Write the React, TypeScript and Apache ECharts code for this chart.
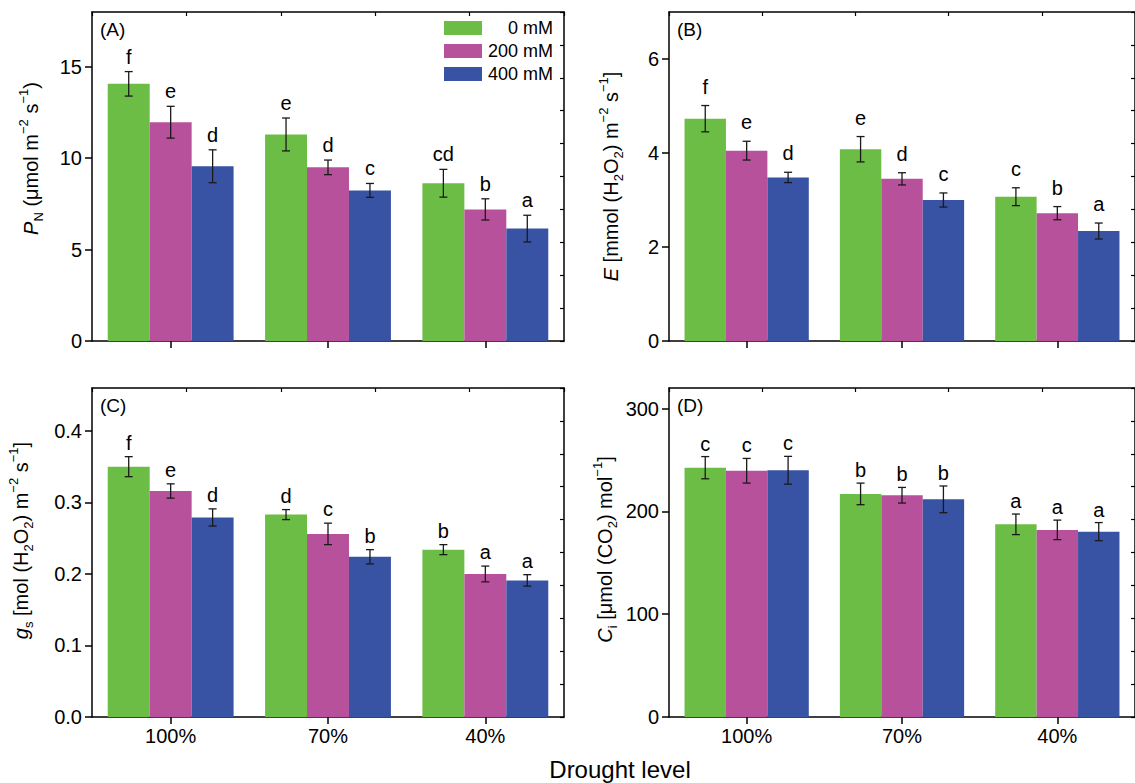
import React, { useEffect, useRef } from "react";
import * as echarts from "echarts";

// ---------------- data ----------------
const categories = ["100%", "70%", "40%"];
const treatments = ["0 mM", "200 mM", "400 mM"];

// rows = treatments (0, 200, 400 mM), columns = categories (100%, 70%, 40%)
const pnMean = [
  [14.07, 11.3, 8.63],
  [11.97, 9.5, 7.2],
  [9.56, 8.24, 6.15],
];
const pnErr = [
  [0.67, 0.9, 0.76],
  [0.87, 0.4, 0.58],
  [0.9, 0.38, 0.73],
];
const pnLetters = [
  ["f", "e", "cd"],
  ["e", "d", "b"],
  ["d", "c", "a"],
];

const eMean = [
  [4.73, 4.08, 3.07],
  [4.05, 3.45, 2.72],
  [3.48, 3.0, 2.34],
];
const eErr = [
  [0.28, 0.27, 0.19],
  [0.2, 0.13, 0.14],
  [0.11, 0.15, 0.17],
];
const eLetters = [
  ["f", "e", "c"],
  ["e", "d", "b"],
  ["d", "c", "a"],
];

const gsMean = [
  [0.35, 0.283, 0.234],
  [0.316, 0.256, 0.2],
  [0.279, 0.224, 0.191],
];
const gsErr = [
  [0.014, 0.007, 0.007],
  [0.01, 0.015, 0.011],
  [0.012, 0.01, 0.008],
];
const gsLetters = [
  ["f", "d", "b"],
  ["e", "c", "a"],
  ["d", "b", "a"],
];

const ciMean = [
  [242.5, 217, 187.4],
  [239.5, 215.7, 182],
  [240, 211.7, 180.3],
];
const ciErr = [
  [10.8, 10.5, 10],
  [12, 7.6, 9.5],
  [13.5, 13, 8.8],
];
const ciLetters = [
  ["c", "b", "a"],
  ["c", "b", "a"],
  ["c", "b", "a"],
];

const pnTicks = [0, 5, 10, 15];
const eTicks = [0, 2, 4, 6];
const gsTicks = [0, 0.1, 0.2, 0.3, 0.4];
const ciTicks = [0, 100, 200, 300];

// ---------------- styles ----------------
const FONT = "'Liberation Sans', Arial, Helvetica, sans-serif";
const colors = ["#6CBD45", "#B8519B", "#3953A4"];
const AXIS_COLOR = "#000";
const AXIS_W = 1.5;

const richName = {
  i: { fontStyle: "italic", fontSize: 20, lineHeight: 28, fontFamily: FONT, color: "#000" },
  n: { fontSize: 20, lineHeight: 28, fontFamily: FONT, color: "#000" },
  sub: { fontSize: 13, lineHeight: 13, verticalAlign: "bottom", fontFamily: FONT, color: "#000" },
  sup: { fontSize: 13, lineHeight: 13, verticalAlign: "top", fontFamily: FONT, color: "#000" },
};

const panels = [
  {
    label: "(A)", left: 92, top: 12, width: 472, height: 329, max: 18,
    ticks: pnTicks, means: pnMean, errs: pnErr, letters: pnLetters,
    name: "{i|P}{sub|N}{n| (μmol m}{sup|−2}{n| s}{sup|−1}{n|)}",
    nameGap: 47, namePad: [0, 0, 0, 36], letterGap: 5, showX: false, digits: 0,
  },
  {
    label: "(B)", left: 669, top: 12, width: 473, height: 329, max: 7,
    ticks: eTicks, means: eMean, errs: eErr, letters: eLetters,
    name: "{i|E}{n| [mmol (H}{sub|2}{n|O}{sub|2}{n|) m}{sup|−2}{n| s}{sup|−1}{n|]}",
    nameGap: 44, namePad: [0, 0, 0, 0], letterGap: 9, showX: false, digits: 0,
  },
  {
    label: "(C)", left: 92, top: 388, width: 472, height: 329, max: 0.46,
    ticks: gsTicks, means: gsMean, errs: gsErr, letters: gsLetters,
    name: "{i|g}{sub|s}{n| [mol (H}{sub|2}{n|O}{sub|2}{n|) m}{sup|−2}{n| s}{sup|−1}{n|]}",
    nameGap: 57, namePad: [0, 0, 0, 24], letterGap: 4, showX: true, digits: 1,
  },
  {
    label: "(D)", left: 669, top: 388, width: 473, height: 329, max: 320,
    ticks: ciTicks, means: ciMean, errs: ciErr, letters: ciLetters,
    name: "{i|C}{sub|i}{n| [μmol (CO}{sub|2}{n|) mol}{sup|−1}{n|]}",
    nameGap: 50, namePad: [0, 0, 0, 6], letterGap: 3, showX: true, digits: 0,
  },
];

function buildOption() {
  const grid: any[] = [];
  const xAxis: any[] = [];
  const yAxis: any[] = [];
  const series: any[] = [];
  const graphic: any[] = [];
  const lineStyle = { color: AXIS_COLOR, width: AXIS_W };

  panels.forEach((p, g) => {
    grid.push({ left: p.left, top: p.top, width: p.width, height: p.height, containLabel: false });

    xAxis.push({
      type: "category",
      gridIndex: g,
      data: categories,
      position: "bottom",
      axisLine: { show: true, lineStyle },
      axisTick: { show: true, alignWithLabel: true, length: 7, lineStyle },
      axisLabel: { show: p.showX, fontSize: 20, fontFamily: FONT, color: "#000", margin: 9 },
      splitLine: { show: false },
    });
    xAxis.push({
      type: "value",
      gridIndex: g,
      position: "top",
      min: 0,
      max: 5,
      interval: 1,
      axisLine: { show: true, onZero: false, lineStyle },
      axisTick: { show: true, inside: true, length: 4, lineStyle: { color: AXIS_COLOR, width: 1.2 } },
      axisLabel: { show: false },
      splitLine: { show: false },
    });

    yAxis.push({
      type: "value",
      gridIndex: g,
      position: "left",
      min: 0,
      max: p.max,
      axisLine: { show: true, onZero: false, lineStyle },
      axisTick: { show: true, length: 7, lineStyle, customValues: p.ticks },
      axisLabel: {
        customValues: p.ticks,
        fontSize: 20,
        fontFamily: FONT,
        color: "#000",
        margin: 10,
        formatter: (v: number) => v.toFixed(p.digits),
      },
      splitLine: { show: false },
      name: p.name,
      nameLocation: "middle",
      nameRotate: 90,
      nameGap: p.nameGap,
      nameTextStyle: { rich: richName, fontSize: 20, fontFamily: FONT, color: "#000", padding: p.namePad },
    });
    yAxis.push({
      type: "value",
      gridIndex: g,
      position: "right",
      min: 0,
      max: 10,
      interval: 1,
      axisLine: { show: true, onZero: false, lineStyle },
      axisTick: { show: true, inside: true, length: 4, lineStyle: { color: AXIS_COLOR, width: 1.2 } },
      axisLabel: { show: false },
      splitLine: { show: false },
    });

    treatments.forEach((t, j) => {
      series.push({
        type: "bar",
        name: t,
        xAxisIndex: 2 * g,
        yAxisIndex: 2 * g,
        data: p.means[j],
        barGap: "0%",
        barCategoryGap: "20%",
        itemStyle: { color: colors[j] },
        z: 2,
      });
    });

    treatments.forEach((t, j) => {
      const data = categories.map((_, ci) => [ci, p.means[j][ci], p.errs[j][ci]]);
      series.push({
        type: "custom",
        name: "err-" + g + "-" + j,
        xAxisIndex: 2 * g,
        yAxisIndex: 2 * g,
        data,
        encode: { x: 0, y: 1 },
        clip: false,
        z: 5,
        renderItem: (params: any, api: any) => {
          const ci = api.value(0);
          const mean = api.value(1);
          const err = api.value(2);
          const band = api.size([1, 0])[0];
          const bw = (band * 0.8) / 3;
          const cx = api.coord([ci, 0])[0] + (j - 1) * bw;
          const yTop = api.coord([ci, mean + err])[1];
          const yBot = api.coord([ci, mean - err])[1];
          const cap = 4;
          const st = { stroke: "#1a1a1a", lineWidth: 1.3 };
          return {
            type: "group",
            children: [
              { type: "line", shape: { x1: cx, y1: yTop, x2: cx, y2: yBot }, style: st },
              { type: "line", shape: { x1: cx - cap, y1: yTop, x2: cx + cap, y2: yTop }, style: st },
              { type: "line", shape: { x1: cx - cap, y1: yBot, x2: cx + cap, y2: yBot }, style: st },
              {
                type: "text",
                x: cx,
                y: yTop - p.letterGap,
                style: {
                  text: p.letters[j][params.dataIndex],
                  fontSize: 20,
                  fontFamily: FONT,
                  fill: "#000",
                  align: "center",
                  verticalAlign: "bottom",
                },
              },
            ],
          };
        },
      });
    });

    graphic.push({
      type: "text",
      left: p.left + 8,
      top: p.top + 8,
      style: { text: p.label, fontSize: 19, fontFamily: FONT, fill: "#000" },
    });
  });

  graphic.push({
    type: "text",
    x: 620,
    y: 769,
    style: {
      text: "Drought level",
      fontSize: 24,
      fontFamily: FONT,
      fill: "#000",
      align: "center",
      verticalAlign: "middle",
    },
  });

  return {
    animation: false,
    backgroundColor: "#fff",
    grid,
    xAxis,
    yAxis,
    series,
    graphic,
    legend: {
      data: treatments,
      orient: "vertical",
      left: 444,
      top: 19,
      padding: 0,
      itemWidth: 38,
      itemHeight: 14,
      itemGap: 5,
      icon: "rect",
      selectedMode: false,
      formatter: (n: string) => "{r|" + n + "}",
      textStyle: {
        rich: {
          r: { width: 66, align: "right", fontSize: 18, lineHeight: 14, fontFamily: FONT, color: "#000" },
        },
      },
    },
  };
}

export default function App() {
  const ref = useRef<HTMLDivElement>(null);
  useEffect(() => {
    document.body.style.margin = "0";
    document.body.style.overflow = "hidden";
    const chart = echarts.init(ref.current!, null, { renderer: "svg" });
    chart.setOption(buildOption() as any);
    return () => chart.dispose();
  }, []);
  return <div ref={ref} style={{ width: 1135, height: 783 }} />;
}
